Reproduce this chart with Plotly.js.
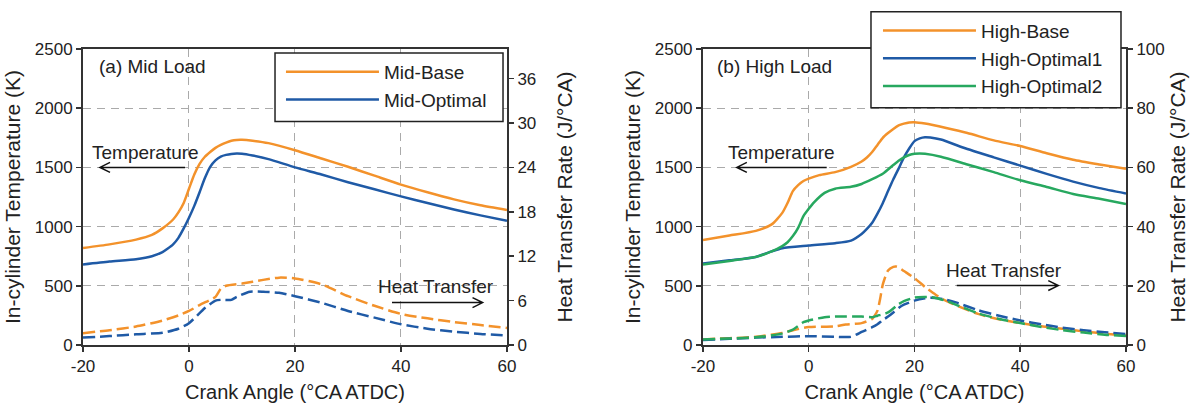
<!DOCTYPE html>
<html>
<head>
<meta charset="utf-8">
<script src="https://cdn.plot.ly/plotly-3.0.1.min.js"></script>
<style>html,body{margin:0;padding:0;background:#fff;}#chart{width:1200px;height:405px;}</style>
</head>
<body>
<div id="chart"></div>
<script>
// ---------- Data ----------
// (a) Mid load - in-cylinder temperature (K)
const midBaseTx = [-20,-15,-10,-7,-5,-3,-2,-1,0,1,2,3,4,5,6,7,8,9,10,12,15,20,25,30,35,40,45,50,55,60];
const midBaseT  = [820,850,890,930,985,1060,1120,1200,1320,1440,1530,1590,1630,1665,1690,1710,1725,1732,1733,1725,1705,1645,1575,1505,1430,1355,1290,1230,1180,1140];
const midOptTx  = [-20,-15,-10,-7,-5,-4,-3,-2,-1,0,1,2,3,4,5,6,7,8,9,10,12,15,20,25,30,35,40,45,50,55,60];
const midOptT   = [680,705,725,750,785,815,850,905,985,1075,1175,1290,1410,1505,1560,1592,1606,1614,1617,1615,1600,1570,1500,1440,1375,1315,1255,1200,1145,1095,1050];
// (a) Mid load - heat transfer rate (J/°CA)
const midBaseHx = [-20,-15,-10,-5,-2,0,2,4,5,6,7,10,14,17,20,25,30,35,40,45,50,55,60];
const midBaseH  = [1.6,2.0,2.5,3.3,4.0,4.6,5.4,6.1,6.5,7.6,8.0,8.3,8.8,9.1,9.0,8.2,6.6,5.3,4.2,3.6,3.1,2.7,2.3];
const midOptHx  = [-20,-15,-10,-5,-2,0,3,5,6,8,9,11.5,14,17,20,25,30,35,40,45,50,55,60];
const midOptH   = [1.0,1.2,1.45,1.65,2.2,2.95,5.0,6.0,6.1,6.1,6.5,7.2,7.2,7.05,6.6,5.7,4.6,3.7,2.8,2.2,1.8,1.5,1.3];

// (b) High load - in-cylinder temperature (K)
const highBaseTx = [-20,-15,-10,-7,-5,-4,-3,-2,-1,0,2,5,8,10,11,12,13,14,15,16,17,18,19,20,22,26,30,35,40,45,50,55,60];
const highBaseT  = [887,925,964,1019,1116,1200,1300,1350,1385,1405,1435,1460,1505,1550,1584,1630,1690,1750,1790,1825,1855,1870,1880,1882,1870,1832,1790,1728,1680,1620,1565,1525,1488];
const highOpt1Tx = [-20,-15,-10,-7,-5,0,5,8,10,11,12,13,14,15,16,17,18,19,20,21,22,23,25,30,35,40,45,50,55,60];
const highOpt1T  = [689,715,744,791,818,840,860,882,937,980,1033,1110,1198,1300,1400,1490,1584,1660,1722,1745,1755,1752,1735,1655,1585,1515,1445,1380,1325,1280];
const highOpt2Tx = [-20,-15,-10,-7,-5,-4,-3,-2,-1,0,1,3,5,8,10,12,14,16,17,18,19,20,21,22,25,30,35,40,45,50,55,60];
const highOpt2T  = [680,710,744,790,835,868,920,990,1088,1150,1205,1285,1320,1336,1360,1400,1446,1520,1556,1585,1605,1615,1617,1615,1590,1525,1460,1391,1335,1275,1235,1190];
// (b) High load - heat transfer rate (J/°CA)
const highBaseHx = [-20,-15,-10,-5,-3,0,5,7,10,12,12.5,13,13.5,14,15,16,16.5,17,18,20,22,24,26,28,32,36,40,44,48,52,56,60];
const highBaseH  = [1.9,2.3,2.75,4.1,5.0,6.05,6.3,6.9,7.4,8.8,10,11.6,15.5,20.4,25.2,26.4,26.5,26.2,25.0,22.6,19.6,17.0,14.9,13.3,10.5,8.7,7.4,6.3,5.5,4.6,3.8,3.2];
const highOpt1Hx = [-20,-15,-10,-5,0,5,8,9,10,12,13,14,15,16,17,18,20,22,23,24,26,28,32,36,40,44,48,52,56,60];
const highOpt1H  = [1.65,2.1,2.5,2.75,2.97,2.75,2.75,3.5,4.4,6.0,7.0,8.4,9.6,11.0,12.5,13.6,15.0,15.8,16.0,15.9,15.3,14.3,11.8,9.9,8.3,7.0,5.85,5.0,4.3,3.7];
const highOpt2Hx = [-20,-15,-10,-5,-3,-1,0,3,5,10,12,13,15,17,18,20,22,23,24,26,28,32,36,40,44,48,52,56,60];
const highOpt2H  = [1.9,2.2,2.6,3.85,5.2,7.7,8.3,9.4,9.6,9.6,9.4,9.9,11.0,13.8,14.8,16.0,16.2,16.2,15.9,14.9,13.5,10.7,8.8,7.4,6.1,5.0,4.2,3.5,3.0];

// Names and tick labels
const midNames  = ['Mid-Base','Mid-Optimal'];
const highNames = ['High-Base','High-Optimal1','High-Optimal2'];
const xTickVals = [-20,0,20,40,60];
const xTickText = ['-20','0','20','40','60'];
const tTickVals = [0,500,1000,1500,2000,2500];
const midHTickVals  = [0,6,12,18,24,30,36];
const highHTickVals = [0,20,40,60,80,100];

// ---------- Styles ----------
const ORANGE = '#F3922B', BLUE = '#1F5AA6', GREEN = '#27A85F';
const FONT = 'Liberation Sans, Arial, sans-serif';
const INK = '#222';
const DASH = '12px,5px';

function solid(x, y, name, color, xa, ya, legend) {
  return {x, y, name, type:'scatter', mode:'lines', xaxis:xa, yaxis:ya, legend,
          line:{color, width:2.5, shape:'spline', smoothing:0.6}};
}
function dashed(x, y, color, xa, ya) {
  return {x, y, type:'scatter', mode:'lines', xaxis:xa, yaxis:ya, showlegend:false, hoverinfo:'skip',
          line:{color, width:2.5, dash:DASH, shape:'spline', smoothing:0.6}};
}

const data = [
  dashed(midBaseHx, midBaseH, ORANGE, 'x', 'y2'),
  dashed(midOptHx,  midOptH,  BLUE,   'x', 'y2'),
  solid(midBaseTx, midBaseT, midNames[0], ORANGE, 'x', 'y', 'legend'),
  solid(midOptTx,  midOptT,  midNames[1], BLUE,   'x', 'y', 'legend'),
  dashed(highBaseHx, highBaseH, ORANGE, 'x2', 'y4'),
  dashed(highOpt1Hx, highOpt1H, BLUE,   'x2', 'y4'),
  dashed(highOpt2Hx, highOpt2H, GREEN,  'x2', 'y4'),
  solid(highBaseTx, highBaseT, highNames[0], ORANGE, 'x2', 'y3', 'legend2'),
  solid(highOpt1Tx, highOpt1T, highNames[1], BLUE,   'x2', 'y3', 'legend2'),
  solid(highOpt2Tx, highOpt2T, highNames[2], GREEN,  'x2', 'y3', 'legend2')
];

const axLine = {showline:true, linecolor:'#333', linewidth:2, zeroline:false,
                ticks:'outside', ticklen:5, tickwidth:1.5, tickcolor:'#333',
                tickfont:{family:FONT, size:17, color:INK}};
const grid = {showgrid:true, gridcolor:'#aaaaaa', gridwidth:1, griddash:'8px,6px'};

function xAxis(domain, anchor) {
  return Object.assign({}, axLine, grid, {domain, anchor, range:[-20,60], mirror:true,
    tickmode:'array', tickvals:xTickVals, ticktext:xTickText,
    title:{text:'Crank Angle (°CA ATDC)', font:{family:FONT, size:20, color:INK}, standoff:10}});
}
function tAxis(anchor) {
  return Object.assign({}, axLine, grid, {anchor, range:[0,2500], mirror:true,
    tickmode:'array', tickvals:tTickVals,
    title:{text:'In-cylinder Temperature (K)', font:{family:FONT, size:21, color:INK}, standoff:8}});
}
function hAxis(anchor, overlay, range, vals, standoff) {
  return Object.assign({}, axLine, {anchor, overlaying:overlay, side:'right', range, showgrid:false,
    tickmode:'array', tickvals:vals,
    title:{text:'Heat Transfer Rate (J/°CA)', font:{family:FONT, size:21, color:INK}, standoff}});
}

// arrow drawn as a path in data coordinates of one panel
function arrowPath(x1, x2, y, xa, ya) {
  const dir = x2 > x1 ? 1 : -1, hx = 1.9, hy = 42;
  return {type:'path', xref:xa, yref:ya, line:{color:'#111', width:1.5},
    path:`M${x1},${y} L${x2},${y} M${x2 - dir*hx},${y + hy} L${x2},${y} L${x2 - dir*hx},${y - hy}`};
}
function label(text, x, y, xa, ya, anchor) {
  return {text, x, y, xref:xa, yref:ya, showarrow:false, xanchor:anchor || 'center', yanchor:'middle',
          font:{family:FONT, size:19, color:INK}};
}
// legend frame (paper coordinates)
function frame(x0, x1, y0, y1) {
  return {type:'rect', xref:'paper', yref:'paper', x0, x1, y0, y1,
          line:{color:'#222', width:1.5}, fillcolor:'rgba(255,255,255,1)', layer:'above'};
}

const legendStyle = {bgcolor:'rgba(0,0,0,0)', borderwidth:0,
  font:{family:FONT, size:19, color:INK}, itemwidth:93, tracegroupgap:0,
  xanchor:'left', yanchor:'top'};

const layout = {
  width:1200, height:405,
  margin:{l:83, r:74, t:43, b:60},
  paper_bgcolor:'#fff', plot_bgcolor:'#fff',
  font:{family:FONT, color:INK},
  xaxis: xAxis([0, 0.4065], 'y'),
  yaxis: tAxis('x'),
  yaxis2: hAxis('x', 'y', [0,40], midHTickVals, 22),
  xaxis2: xAxis([0.5944, 1], 'y3'),
  yaxis3: tAxis('x2'),
  yaxis4: hAxis('x2', 'y3', [0,100], highHTickVals, 7),
  legend: Object.assign({}, legendStyle, {x:0.1898, y:0.9868}),
  legend2: Object.assign({}, legendStyle, {x:0.7622, y:1.126}),
  annotations: [
    label('(a) Mid Load', -17.4, 2355, 'x', 'y', 'left'),
    label('Temperature', -8.3, 1628, 'x', 'y'),
    label('Heat Transfer', 46.6, 496, 'x', 'y'),
    label('(b) High Load', -17.7, 2355, 'x2', 'y3', 'left'),
    label('Temperature', -5.1, 1628, 'x2', 'y3'),
    label('Heat Transfer', 37.0, 628, 'x2', 'y3')
  ],
  shapes: [
    arrowPath(-0.75, -16.8, 1500, 'x', 'y'),
    arrowPath(38.3, 55.4, 358, 'x', 'y'),
    arrowPath(3.4, -13.6, 1500, 'x2', 'y3'),
    arrowPath(28.0, 47.2, 502, 'x2', 'y3'),
    frame(0.1841, 0.4027, 0.755, 0.9868),
    frame(0.7555, 0.9952, 0.8013, 1.1258)
  ],
  showlegend:true
};

Plotly.newPlot('chart', data, layout, {staticPlot:true, displayModeBar:false});
</script>
</body>
</html>
